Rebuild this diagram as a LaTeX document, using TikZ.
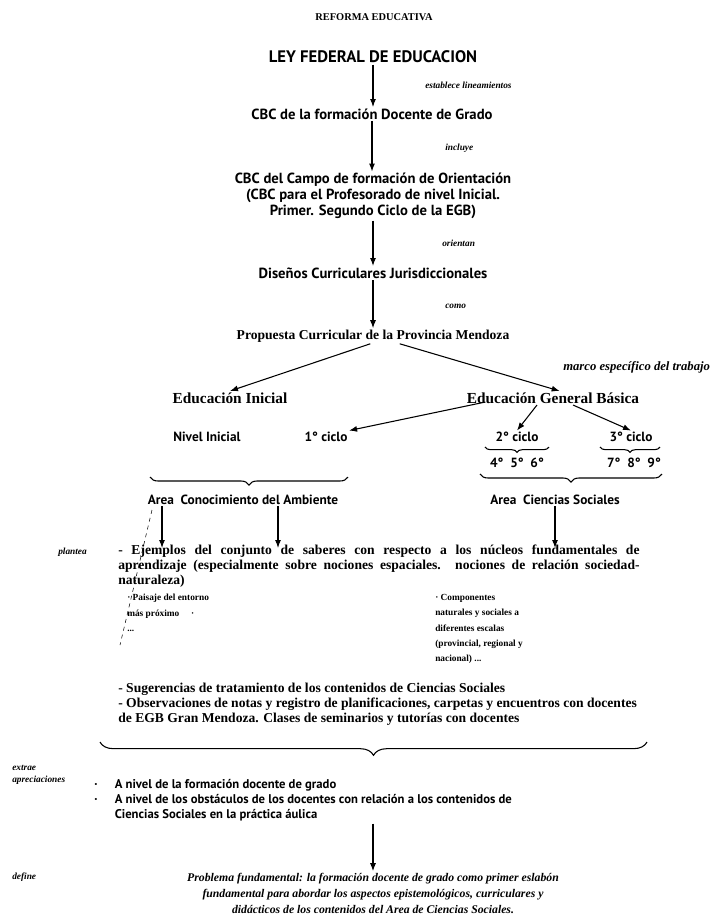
\documentclass[tikz,border=0pt]{standalone}
\usepackage{fontspec}
\setmainfont{Liberation Serif}
\newfontfamily\ptsans{PT Sans}
\usetikzlibrary{arrows.meta,decorations.pathreplacing,calc}

\tikzset{
  sn/.style={font=\ptsans\bfseries\fontsize{10}{12}\selectfont, inner sep=1pt},
  snl/.style={font=\ptsans\bfseries\fontsize{11}{12}\selectfont, inner sep=1pt},
  sr/.style={font=\bfseries\fontsize{11.5}{12}\selectfont, inner sep=1pt},
  note/.style={font=\bfseries\itshape\fontsize{7}{9}\selectfont, inner sep=0pt, anchor=west},
  body/.style={font=\bfseries\fontsize{10.2}{11.2}\selectfont, inner sep=0pt, anchor=north west},
  small/.style={font=\bfseries\fontsize{7}{11.5}\selectfont, inner sep=0pt, anchor=north west, align=left},
  arr/.style={-{Latex[length=6pt,width=4.5pt]}, thick},
  brc/.style={decorate, decoration={brace, mirror, amplitude=#1}, thick},
}

\begin{document}
\begin{tikzpicture}[x=0.75pt,y=-0.75pt]
\useasboundingbox (0,0) rectangle (714,915);

% cadena principal
\node[sr, font=\bfseries\fontsize{7.8}{10}\selectfont] (reforma) at (374,17) {REFORMA EDUCATIVA};
\node[snl, font=\ptsans\bfseries\fontsize{12.5}{13}\selectfont] (ley) at (373,57) {LEY FEDERAL DE EDUCACION};
\node[snl] (cbcfd) at (372,114) {CBC de la formación Docente de Grado};
\node[snl, align=center] (cbcco) at (373,196) {CBC del Campo de formación de Orientación\\(CBC para el Profesorado de nivel Inicial.\\Primer. Segundo Ciclo de la EGB)};
\node[snl] (disenos) at (373,273) {Diseños Curriculares Jurisdiccionales};
\node[sr, font=\bfseries\fontsize{10.2}{12}\selectfont] (prop) at (373,336) {Propuesta Curricular de la Provincia Mendoza};

\draw[arr] (ley) -- (ley |- cbcfd.north);
\draw[arr] (cbcfd) -- (cbcfd |- cbcco.north);
\draw[arr] (cbcco) -- (disenos);
\draw[arr] (disenos) -- (prop);

\node[note] (n1) at (425,85) {establece lineamientos};
\node[note] (n2) at (445,148) {incluye};
\node[note] (n3) at (442,243) {orientan};
\node[note] (n4) at (445,306) {como};
\node[note, font=\bfseries\itshape\fontsize{9.5}{10}\selectfont] (n5) at (563,367) {marco específico del trabajo};

% niveles
\node[sr] (ei) at (230,398) {Educación Inicial};
\node[sr] (egb) at (553,398) {Educación General Básica};
\draw[arr] ([xshift=-2]prop.south) -- (ei.north);
\draw[arr] ([xshift=20]prop.south) -- ([xshift=5]egb.north);

\node[sn] (nivel) at (207,437) {Nivel Inicial};
\node[sn] (ciclo1) at (326,437) {1° ciclo};
\node[sn] (ciclo2) at (517,437) {2° ciclo};
\node[sn] (ciclo3) at (631,437) {3° ciclo};
\node[sn] (grados2) at (517,463) {4°\ \ 5°\ \ 6°};
\node[sn] (grados3) at (634,463) {7°\ \ 8°\ \ 9°};
\draw[arr] ($(egb.south west)+(20,-3)$) -- (ciclo1.north east);
\draw[arr] ($(egb.south)+(-16,0)$) -- (ciclo2.north);
\draw[arr] ($(egb.south)+(20,0)$) -- (ciclo3.north);

% llaves
\coordinate (b1l) at (150,477);
\coordinate (b1r) at (348,477);
\coordinate (b2l) at (485,447);
\coordinate (b2r) at (549,447);
\coordinate (b3l) at (600,447);
\coordinate (b3r) at (660,447);
\coordinate (b4l) at (480,474);
\coordinate (b4r) at (662,474);
\draw[brc=6pt] (b1l) -- (b1r);
\draw[brc=4pt] (b2l) -- (b2r);
\draw[brc=4pt] (b3l) -- (b3r);
\draw[brc=6pt] (b4l) -- (b4r);

\node[sn] (area1) at (243,500) {Area\ \ Conocimiento del Ambiente};
\node[sn] (area2) at (555,500) {Area\ \ Ciencias Sociales};

\coordinate (t1) at (162,548);
\coordinate (t2) at (278,548);
\coordinate (t3) at (555,548);
\draw[arr] (area1.south -| t1) -- (t1);
\draw[arr] (area1.south -| t2) -- (t2);
\draw[arr] (area2.south -| t3) -- (t3);

\coordinate (d1) at (152,510);
\coordinate (d2) at (120,645);
\draw[dashed, thin] (d1) -- (d2);

% contenidos
\node[note] (n6) at (58,552) {plantea};
\node[body, text width=391pt, align=justify] (ejemplos) at (118,545) {- Ejemplos del conjunto de saberes con respecto a los núcleos fundamentales de\linebreak aprendizaje (especialmente sobre nociones espaciales. nociones de relación sociedad-\linebreak naturaleza)};
\node[small] (paisaje) at (127,594) {· Paisaje del entorno\\más próximo\quad\ ·\\...};
\node[small] (compon) at (435,594) {· Componentes\\naturales y sociales a\\diferentes escalas\\(provincial, regional y\\nacional) ...};
\node[body, align=left] (suger) at (118,683) {- Sugerencias de tratamiento de los contenidos de Ciencias Sociales\\- Observaciones de notas y registro de planificaciones, carpetas y encuentros con docentes\\de EGB Gran Mendoza. Clases de seminarios y tutorías con docentes};

\coordinate (b5l) at (100,742);
\coordinate (b5r) at (647,742);
\draw[brc=10pt] (b5l) -- (b5r);

\node[note, align=left] (n7) at (12,775) {extrae\\apreciaciones};
\node[sn, anchor=north west, inner sep=0pt, font=\ptsans\bfseries\fontsize{9.5}{11.5}\selectfont] (niveles) at (94,777) {\begin{tabular}{@{}l@{\hspace{13pt}}l@{}}
· & A nivel de la formación docente de grado\\
· & A nivel de los obstáculos de los docentes con relación a los contenidos de\\
  & Ciencias Sociales en la práctica áulica
\end{tabular}};

\node[note] (n8) at (12,877) {define};
\node[font=\bfseries\itshape\fontsize{8.8}{12}\selectfont, align=center, inner sep=1pt] (problema) at (373,893) {Problema fundamental: la formación docente de grado como primer eslabón\\fundamental para abordar los aspectos epistemológicos, curriculares y\\didácticos de los contenidos del Area de Ciencias Sociales.};
\draw[arr] (niveles.south -| problema.north) -- (problema.north);
\end{tikzpicture}
\end{document}
